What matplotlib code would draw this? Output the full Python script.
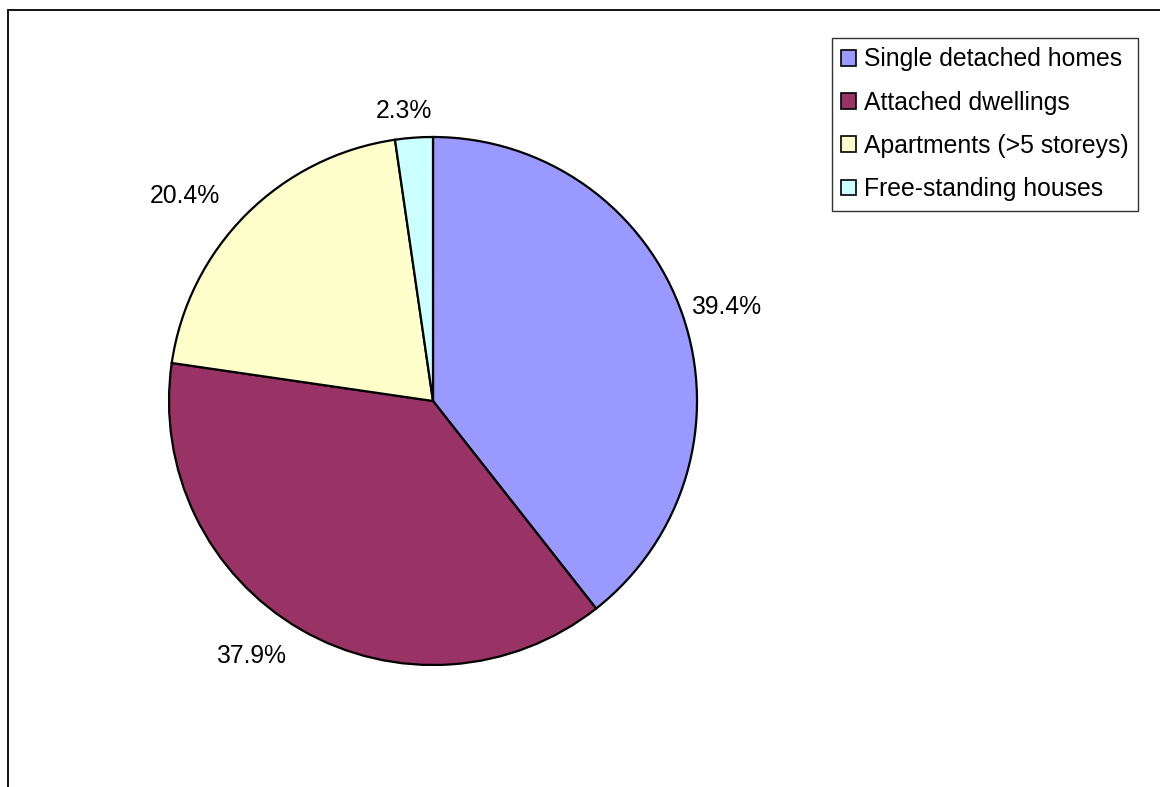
import numpy as np
import matplotlib
matplotlib.use("Agg")
import matplotlib.pyplot as plt
from matplotlib.patches import Rectangle, Patch

plt.rcParams['font.family'] = ['Liberation Sans', 'DejaVu Sans']

categories = ["Single detached homes", "Attached dwellings",
              "Apartments (>5 storeys)", "Free-standing houses"]
shares = [39.4, 37.9, 20.4, 2.3]
colors = ["#9999FF", "#993366", "#FFFFCC", "#CCFFFF"]

W, H = 1160, 787
fig = plt.figure(figsize=(W / 100, H / 100), dpi=100)

# outer chart frame (open at right and bottom edges of the canvas)
fig.patches.append(Rectangle((8 / W, -0.05), 1.2, (H - 10) / H + 0.05,
                             transform=fig.transFigure, fill=False,
                             edgecolor="black", linewidth=1.3))

cx, cy, r = 433, 787 - 401, 264
ax = fig.add_axes([(cx - r) / W, (cy - r) / H, 2 * r / W, 2 * r / H])
wedges, _ = ax.pie(shares, colors=colors, startangle=90, counterclock=False,
                   radius=1.0,
                   wedgeprops=dict(edgecolor="black", linewidth=1.6))
ax.set_xlim(-1, 1)
ax.set_ylim(-1, 1)
ax.set_aspect("equal")
ax.axis("off")

fs = 17.8
renderer = fig.canvas.get_renderer()
gap = 20 / r                      # clearance between rim and label box
cap = 0.716 * fs * 100 / 72 / r   # cap height in data units
for w, v in zip(wedges, shares):
    ang = np.deg2rad((w.theta1 + w.theta2) / 2)
    ux, uy = np.cos(ang), np.sin(ang)
    t = ax.text(0, 0, f"{v:.1f}%", ha="center", va="baseline", fontsize=fs)
    tw = t.get_window_extent(renderer).width / r
    px = (1 + gap) * ux + 0.5 * tw * ux - 0.12 * tw
    if ux < -0.3:
        px -= 0.2 * tw
    py = (1 + gap) * uy + 0.5 * cap * uy
    t.set_position((px, py - cap / 2))

handles = [Patch(facecolor=c, edgecolor="black", linewidth=1.2) for c in colors]
leg = fig.legend(handles, categories, loc="upper left",
                 bbox_to_anchor=(832 / W, 1 - 38 / H),
                 fontsize=fs, frameon=True, fancybox=False,
                 edgecolor="black", handlelength=0.6, handleheight=0.6,
                 handletextpad=0.33, labelspacing=0.78, borderpad=0.38,
                 borderaxespad=0)
leg.get_frame().set_linewidth(1.0)

fig.savefig("out.png", dpi=100)
